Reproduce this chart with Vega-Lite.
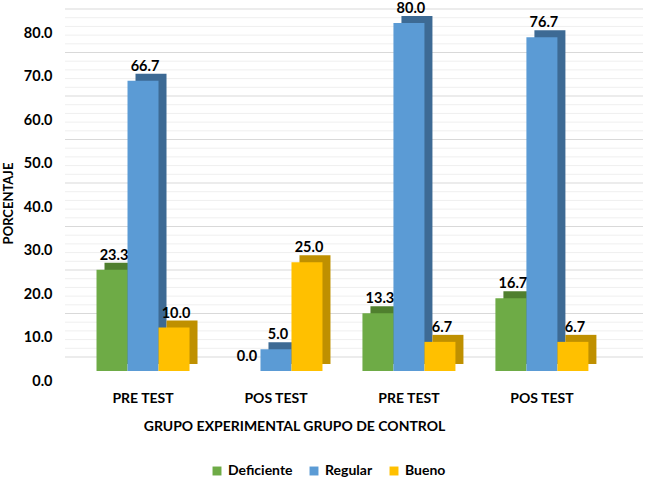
{
  "$schema": "https://vega.github.io/schema/vega-lite/v6.json",
  "autosize": {"type": "none"},
  "width": 555,
  "height": 348,
  "padding": {"left": 65, "top": 23, "right": 27, "bottom": 113},
  "background": "white",
  "config": {
    "view": {"stroke": null},
    "font": "Lato",
    "axis": {"labelFont": "Lato", "titleFont": "Lato", "labelFontWeight": "bold", "titleFontWeight": "bold", "labelColor": "#000000", "titleColor": "#000000"},
    "legend": {"labelFont": "Lato", "labelFontWeight": "bold"}
  },
  "datasets": {
    "bars": [
      {"id": "EXP|PRE TEST", "serie": "Deficiente", "valor": 23.3},
      {"id": "EXP|PRE TEST", "serie": "Regular", "valor": 66.7},
      {"id": "EXP|PRE TEST", "serie": "Bueno", "valor": 10.0},
      {"id": "EXP|POS TEST", "serie": "Deficiente", "valor": 0.0},
      {"id": "EXP|POS TEST", "serie": "Regular", "valor": 5.0},
      {"id": "EXP|POS TEST", "serie": "Bueno", "valor": 25.0},
      {"id": "CTRL|PRE TEST", "serie": "Deficiente", "valor": 13.3},
      {"id": "CTRL|PRE TEST", "serie": "Regular", "valor": 80.0},
      {"id": "CTRL|PRE TEST", "serie": "Bueno", "valor": 6.7},
      {"id": "CTRL|POS TEST", "serie": "Deficiente", "valor": 16.7},
      {"id": "CTRL|POS TEST", "serie": "Regular", "valor": 76.7},
      {"id": "CTRL|POS TEST", "serie": "Bueno", "valor": 6.7}
    ],
    "grid": [
      {"v": 0}, {"v": 10}, {"v": 20}, {"v": 30}, {"v": 40}, {"v": 50}, {"v": 60}, {"v": 70}, {"v": 80}
    ],
    "minor": [
      {"v": 2}, {"v": 4}, {"v": 6}, {"v": 8},
      {"v": 12}, {"v": 14}, {"v": 16}, {"v": 18},
      {"v": 22}, {"v": 24}, {"v": 26}, {"v": 28},
      {"v": 32}, {"v": 34}, {"v": 36}, {"v": 38},
      {"v": 42}, {"v": 44}, {"v": 46}, {"v": 48},
      {"v": 52}, {"v": 54}, {"v": 56}, {"v": 58},
      {"v": 62}, {"v": 64}, {"v": 66}, {"v": 68},
      {"v": 72}, {"v": 74}, {"v": 76}, {"v": 78}
    ]
  },
  "layer": [
    {
      "data": {"name": "minor"},
      "mark": {"type": "rule", "color": "#EFEFEF", "strokeWidth": 1, "xOffset": 23, "yOffset": -14},
      "encoding": {
        "y": {"field": "v", "type": "quantitative", "scale": {"domain": [0, 80]}}
      }
    },
    {
      "data": {"name": "grid"},
      "mark": {"type": "rule", "color": "#D9D9D9", "strokeWidth": 1, "xOffset": 23, "yOffset": -14},
      "encoding": {
        "y": {"field": "v", "type": "quantitative", "scale": {"domain": [0, 80]}}
      }
    },
    {
      "data": {"name": "bars"},
      "mark": {"type": "bar", "yOffset": -7},
      "encoding": {
        "x": {"field": "id", "type": "nominal", "sort": null,
              "scale": {"paddingInner": 0.3, "paddingOuter": 0.237},
              "axis": {"labelExpr": "split(datum.label, '|')[1]", "labelAngle": 0, "labelFontSize": 14, "labelPadding": 20, "domain": false, "ticks": false,
                       "title": "GRUPO EXPERIMENTAL GRUPO DE CONTROL", "titleFontSize": 14, "titleX": 229, "titleY": 48}},
        "xOffset": {"field": "serie", "type": "nominal", "sort": ["Deficiente", "Regular", "Bueno"], "scale": {"range": [8, 101], "paddingInner": 0, "paddingOuter": 0}},
        "y": {"field": "valor", "type": "quantitative",
              "scale": {"domain": [0, 80]},
              "axis": {"values": [0, 10, 20, 30, 40, 50, 60, 70, 80], "format": ".1f", "grid": false, "domain": false, "ticks": false, "labelFontSize": 14.5, "labelPadding": 13, "labelOffset": 10,
                       "title": "PORCENTAJE", "titleFontSize": 13, "titleX": -57, "titleY": 180, "titleAngle": -90, "titleAlign": "center", "titleBaseline": "middle"}},
        "color": {"field": "serie", "type": "nominal", "sort": ["Deficiente", "Regular", "Bueno"],
                  "scale": {"domain": ["Deficiente", "Regular", "Bueno"], "range": ["#4F7F2E", "#3D6A94", "#BF9000"]}, "legend": null}
      }
    },
    {
      "data": {"name": "bars"},
      "layer": [
        {
          "mark": {"type": "bar"},
          "encoding": {
            "x": {"field": "id", "type": "nominal", "sort": null},
            "xOffset": {"field": "serie", "type": "nominal", "sort": ["Deficiente", "Regular", "Bueno"], "scale": {"range": [0, 93], "paddingInner": 0, "paddingOuter": 0}},
            "y": {"field": "valor", "type": "quantitative"},
            "color": {"field": "serie", "type": "nominal", "sort": ["Deficiente", "Regular", "Bueno"],
                      "scale": {"domain": ["Deficiente", "Regular", "Bueno"], "range": ["#6EAB46", "#5B9BD5", "#FFC000"]},
                      "legend": {"title": null, "orient": "none", "direction": "horizontal", "legendX": 145, "legendY": 441, "symbolType": "square", "symbolSize": 80, "symbolStrokeWidth": 0, "labelFontSize": 14, "columnPadding": 14, "labelOffset": 4}}
          }
        },
        {
          "mark": {"type": "text", "baseline": "bottom", "dy": -7, "dx": 2, "fontWeight": "bold", "fontSize": 14.5, "font": "Lato", "color": "#000000"},
          "encoding": {
            "x": {"field": "id", "type": "nominal", "sort": null},
            "xOffset": {"field": "serie", "type": "nominal", "sort": ["Deficiente", "Regular", "Bueno"]},
            "y": {"field": "valor", "type": "quantitative"},
            "text": {"field": "valor", "type": "quantitative", "format": ".1f"}
          }
        }
      ],
      "resolve": {"scale": {"xOffset": "shared"}}
    }
  ],
  "resolve": {"scale": {"color": "independent", "xOffset": "independent"}}
}
